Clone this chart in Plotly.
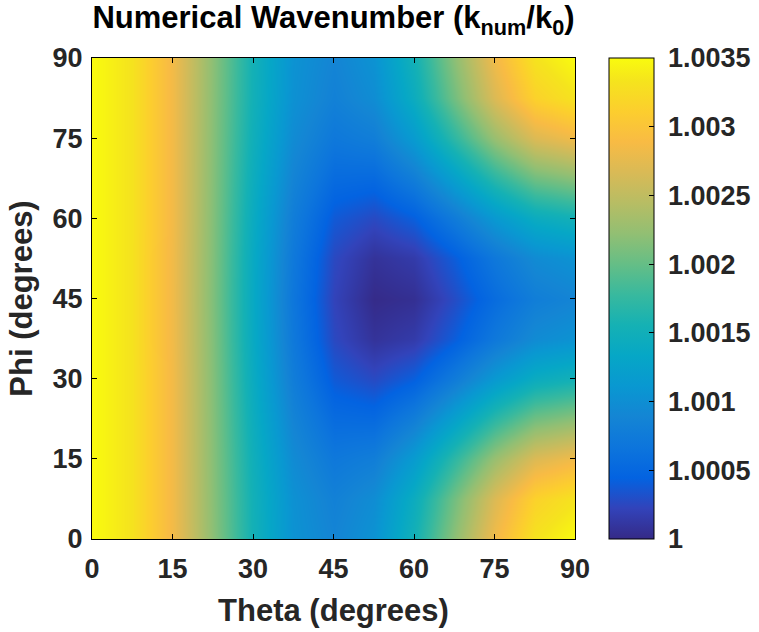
import plotly.graph_objects as go

theta = [0, 7.5, 15, 22.5, 30, 37.5, 45, 52.5, 60, 67.5, 75, 82.5, 90]
phi = [0, 7.5, 15, 22.5, 30, 37.5, 45, 52.5, 60, 67.5, 75, 82.5, 90]

# k_num/k0, rows = phi, columns = theta
z = [
    [1.00350, 1.00332, 1.00284, 1.00219, 1.00153, 1.00105, 1.00088, 1.00105, 1.00153, 1.00219, 1.00284, 1.00332, 1.00350],
    [1.00350, 1.00332, 1.00284, 1.00218, 1.00152, 1.00103, 1.00083, 1.00098, 1.00143, 1.00206, 1.00269, 1.00315, 1.00332],
    [1.00350, 1.00332, 1.00284, 1.00217, 1.00149, 1.00096, 1.00071, 1.00079, 1.00116, 1.00171, 1.00227, 1.00269, 1.00284],
    [1.00350, 1.00332, 1.00284, 1.00216, 1.00145, 1.00087, 1.00055, 1.00053, 1.00079, 1.00123, 1.00170, 1.00206, 1.00219],
    [1.00350, 1.00332, 1.00284, 1.00215, 1.00141, 1.00078, 1.00038, 1.00027, 1.00042, 1.00075, 1.00113, 1.00142, 1.00153],
    [1.00350, 1.00332, 1.00283, 1.00214, 1.00138, 1.00072, 1.00026, 1.00008, 1.00015, 1.00040, 1.00071, 1.00096, 1.00105],
    [1.00350, 1.00332, 1.00283, 1.00213, 1.00137, 1.00069, 1.00022, 1.00001, 1.00005, 1.00028, 1.00056, 1.00079, 1.00088],
    [1.00350, 1.00332, 1.00283, 1.00214, 1.00138, 1.00072, 1.00026, 1.00008, 1.00015, 1.00040, 1.00071, 1.00096, 1.00105],
    [1.00350, 1.00332, 1.00284, 1.00215, 1.00141, 1.00078, 1.00038, 1.00027, 1.00042, 1.00075, 1.00113, 1.00142, 1.00153],
    [1.00350, 1.00332, 1.00284, 1.00216, 1.00145, 1.00087, 1.00055, 1.00053, 1.00079, 1.00123, 1.00170, 1.00206, 1.00219],
    [1.00350, 1.00332, 1.00284, 1.00217, 1.00149, 1.00096, 1.00071, 1.00079, 1.00116, 1.00171, 1.00227, 1.00269, 1.00284],
    [1.00350, 1.00332, 1.00284, 1.00218, 1.00152, 1.00103, 1.00083, 1.00098, 1.00143, 1.00206, 1.00269, 1.00315, 1.00332],
    [1.00350, 1.00332, 1.00284, 1.00219, 1.00153, 1.00105, 1.00088, 1.00105, 1.00153, 1.00219, 1.00284, 1.00332, 1.00350],
]

axis_ticks = [0, 15, 30, 45, 60, 75, 90]
cbar_ticks = [1.0, 1.0005, 1.001, 1.0015, 1.002, 1.0025, 1.003, 1.0035]
cbar_text = [" 1", " 1.0005", " 1.001", " 1.0015", " 1.002", " 1.0025", " 1.003", " 1.0035"]

parula = [
    [0.0000, "rgb(53,42,135)"],
    [0.0635, "rgb(50,67,186)"],
    [0.1270, "rgb(3,99,225)"],
    [0.1905, "rgb(13,117,220)"],
    [0.2540, "rgb(20,133,212)"],
    [0.3175, "rgb(9,152,209)"],
    [0.3810, "rgb(6,167,198)"],
    [0.4444, "rgb(21,177,180)"],
    [0.5079, "rgb(56,185,158)"],
    [0.5714, "rgb(101,190,134)"],
    [0.6349, "rgb(146,191,115)"],
    [0.6984, "rgb(183,189,100)"],
    [0.7619, "rgb(217,186,86)"],
    [0.8254, "rgb(248,187,68)"],
    [0.8889, "rgb(252,206,46)"],
    [0.9524, "rgb(245,228,29)"],
    [1.0000, "rgb(249,251,14)"],
]

FONT = "Liberation Sans, Arial, sans-serif"
TICKSIZE = 27
LABELSIZE = 31

fig = go.Figure(
    go.Heatmap(
        x=theta,
        y=phi,
        z=z,
        zmin=1.0,
        zmax=1.0035,
        zsmooth="best",
        colorscale=parula,
        colorbar=dict(
            x=1.0704,
            xanchor="left",
            y=0.5,
            yanchor="middle",
            len=1.0,
            lenmode="fraction",
            thickness=45,
            thicknessmode="pixels",
            xpad=0,
            ypad=0,
            outlinewidth=1,
            outlinecolor="black",
            ticks="inside",
            ticklen=5,
            tickcolor="black",
            tickvals=cbar_ticks,
            ticktext=cbar_text,
            tickfont=dict(family=FONT, size=TICKSIZE, color="#262626", weight="bold"),
        ),
    )
)

fig.update_layout(
    width=759,
    height=632,
    margin=dict(l=92, r=184, t=58, b=93, autoexpand=False),
    paper_bgcolor="white",
    plot_bgcolor="white",
    font=dict(family=FONT, color="#262626"),
    title=dict(
        text="<b>Numerical Wavenumber (k<sub>num</sub>/k<sub>0</sub>)</b>",
        x=(92 + 575) / 2 / 759,
        xanchor="center",
        y=0.99,
        yanchor="top",
        font=dict(family=FONT, size=LABELSIZE, color="black"),
    ),
    xaxis=dict(
        range=[0, 90],
        tickvals=axis_ticks,
        ticks="inside",
        ticklen=5,
        tickcolor="black",
        showline=True,
        linecolor="black",
        linewidth=1,
        mirror="ticks",
        showgrid=False,
        zeroline=False,
        ticklabelstandoff=6,
        tickfont=dict(family=FONT, size=TICKSIZE, color="#262626", weight="bold"),
        title=dict(
            text="<b>Theta (degrees)</b>",
            font=dict(family=FONT, size=LABELSIZE, color="#262626"),
            standoff=15,
        ),
    ),
    yaxis=dict(
        range=[0, 90],
        tickvals=axis_ticks,
        ticks="inside",
        ticklen=5,
        tickcolor="black",
        showline=True,
        linecolor="black",
        linewidth=1,
        mirror="ticks",
        showgrid=False,
        zeroline=False,
        ticklabelstandoff=3,
        tickfont=dict(family=FONT, size=TICKSIZE, color="#262626", weight="bold"),
        title=dict(
            text="<b>Phi (degrees)</b>",
            font=dict(family=FONT, size=LABELSIZE, color="#262626"),
            standoff=10,
        ),
    ),
)

fig.write_html("out.html")
